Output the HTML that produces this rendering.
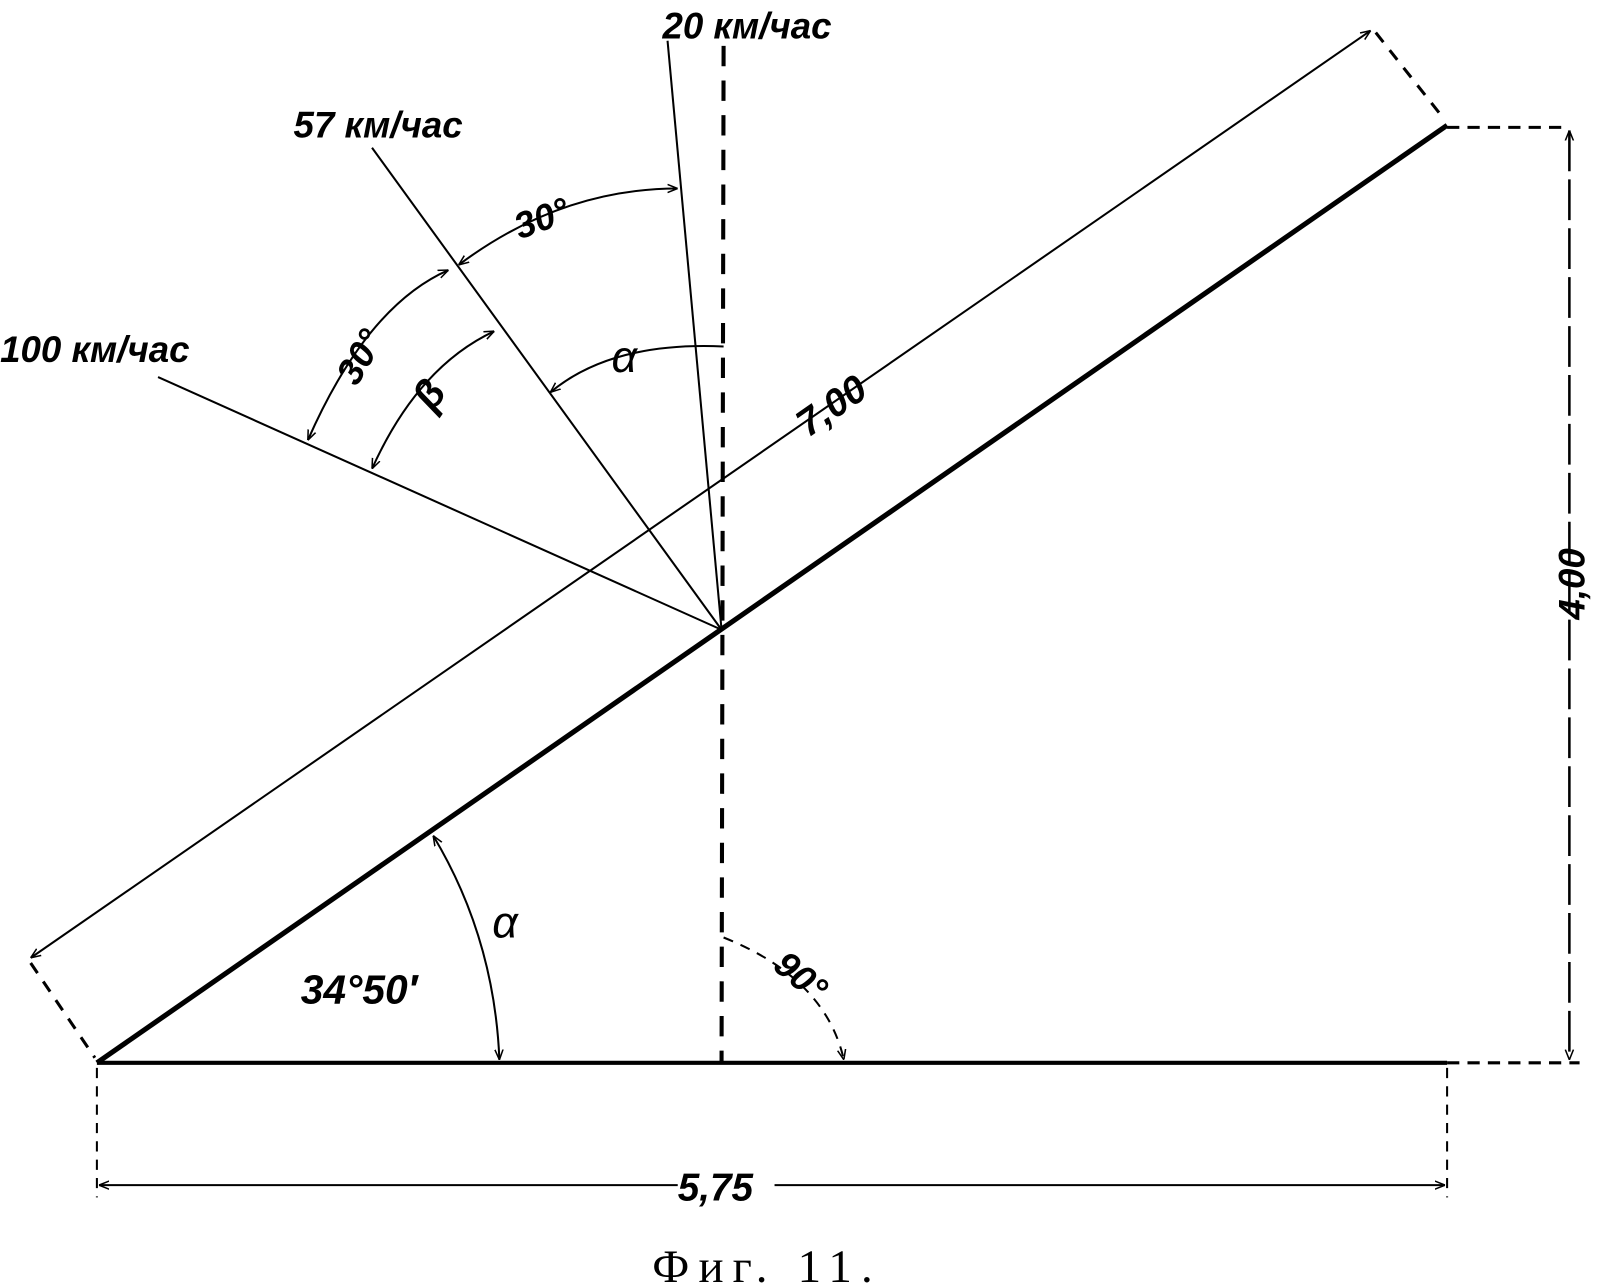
<!DOCTYPE html>
<html><head><meta charset="utf-8"><style>
html,body{margin:0;padding:0;background:#fff;}
svg{display:block;}
.t{font-family:"Liberation Sans",sans-serif;font-style:italic;font-weight:bold;fill:#000;}
</style></head><body>
<svg width="1598" height="1286" viewBox="0 0 1568 1262" xmlns="http://www.w3.org/2000/svg">
<defs>
<marker id="a" viewBox="0 0 10 10" refX="10" refY="5" markerWidth="10" markerHeight="10" orient="auto-start-reverse" markerUnits="userSpaceOnUse"><path d="M0,1 L10,5 L0,9" fill="none" stroke="#000" stroke-width="1.5"/></marker>
</defs>
<g stroke="#000" fill="none">
<line x1="95" y1="1043" x2="1420" y2="1043" stroke-width="4"/>
<line x1="1420" y1="1043" x2="1550" y2="1043" stroke-width="3" stroke-dasharray="12,8"/>
<line x1="95" y1="1043" x2="1420" y2="123" stroke-width="5"/>
<line x1="1420" y1="125" x2="1535" y2="125" stroke-width="3" stroke-dasharray="12,8"/>
<line x1="1540" y1="128" x2="1540" y2="1040" stroke-width="2.5" stroke-dasharray="40,8" marker-start="url(#a)" marker-end="url(#a)"/>
<line x1="30" y1="940" x2="1345" y2="30" stroke-width="2" marker-start="url(#a)" marker-end="url(#a)"/>
<line x1="1350" y1="32" x2="1418" y2="118" stroke-width="3" stroke-dasharray="12,10"/>
<line x1="30" y1="945" x2="93" y2="1038" stroke-width="3" stroke-dasharray="12,10"/>
<line x1="710" y1="45" x2="708" y2="1043" stroke-width="4" stroke-dasharray="20,14"/>
<line x1="708" y1="618" x2="655" y2="40" stroke-width="2"/>
<line x1="708" y1="618" x2="365" y2="145" stroke-width="2"/>
<line x1="708" y1="618" x2="155" y2="370" stroke-width="2"/>
<path d="M302,432 Q360,300 440,265" stroke-width="2" marker-start="url(#a)" marker-end="url(#a)"/>
<path d="M450,260 Q550,185 665,185" stroke-width="2" marker-start="url(#a)" marker-end="url(#a)"/>
<path d="M365,460 Q410,360 485,325" stroke-width="2" marker-start="url(#a)" marker-end="url(#a)"/>
<path d="M540,385 Q600,335 710,340" stroke-width="2" marker-start="url(#a)"/>
<path d="M425,820 Q485,920 490,1040" stroke-width="2" marker-start="url(#a)" marker-end="url(#a)"/>
<path d="M710,920 Q810,960 828,1040" stroke-width="2" stroke-dasharray="10,8" marker-end="url(#a)"/>
<line x1="95" y1="1048" x2="95" y2="1175" stroke-width="2" stroke-dasharray="10,8"/>
<line x1="1420" y1="1048" x2="1420" y2="1175" stroke-width="2" stroke-dasharray="10,8"/>
<line x1="97" y1="1163" x2="665" y2="1163" stroke-width="2" marker-start="url(#a)"/>
<line x1="760" y1="1163" x2="1418" y2="1163" stroke-width="2" marker-end="url(#a)"/>
</g>
<g class="t">
<text x="650" y="38" font-size="36">20 км/час</text>
<text x="288" y="135" font-size="36">57 км/час</text>
<text x="0" y="355" font-size="36">100 км/час</text>
<text x="0" y="0" font-size="36" transform="translate(510,235) rotate(-20)">30°</text>
<text x="0" y="0" font-size="36" transform="translate(350,380) rotate(-60)">30°</text>
<text x="0" y="0" font-size="40" transform="translate(425,405) rotate(-55)">β</text>
<text x="600" y="365" font-size="44" font-weight="normal">α</text>
<text x="0" y="0" font-size="38" transform="translate(793,430) rotate(-35)">7,00</text>
<text x="0" y="0" font-size="36" transform="translate(1555,608) rotate(-90)">4,00</text>
<text x="483" y="920" font-size="44" font-weight="normal">α</text>
<text x="295" y="985" font-size="40">34°50′</text>
<text x="0" y="0" font-size="36" transform="translate(757,950) rotate(40)">90°</text>
<text x="665" y="1178" font-size="38">5,75</text>
</g>
<text x="640" y="1258" font-family="Liberation Serif,serif" font-size="46" letter-spacing="9">Фиг. 11.</text>
</svg>
</body></html>
